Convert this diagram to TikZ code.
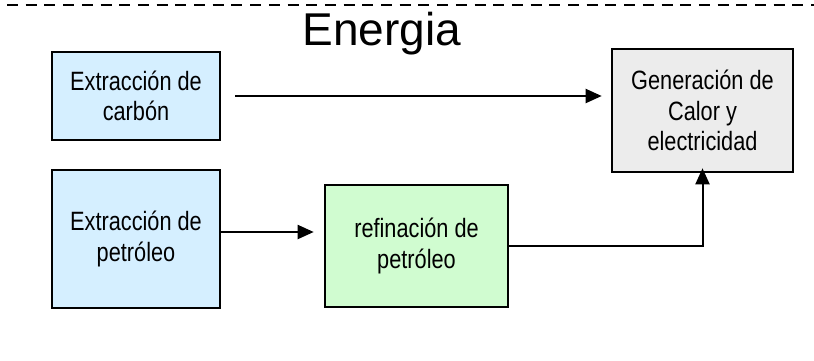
\documentclass[tikz,border=0pt]{standalone}
\usepackage{fontspec}
\setmainfont{Liberation Sans}
\newfontfamily\narrowfont[FakeStretch=0.82]{Liberation Sans}
\usetikzlibrary{arrows.meta}
\definecolor{boxblue}{RGB}{213,239,255}
\definecolor{boxgreen}{RGB}{208,252,208}
\definecolor{boxgray}{RGB}{236,236,236}
\tikzset{
  procbox/.style={draw=black, line width=2.6pt, inner sep=0pt, align=center,
    font=\narrowfont\fontsize{26.5}{30.5}\selectfont},
  arr/.style={line width=2pt, -{Triangle[length=16pt,width=14pt]}},
  sepline/.style={line width=2.2pt, dash pattern=on 11pt off 7.7pt}
}
\begin{document}
\begin{tikzpicture}[x=1pt,y=-1pt]
\useasboundingbox (0,0) rectangle (814,360);
\coordinate (dl) at (7,5);
\coordinate (dr) at (814,5);
\draw[sepline] (dl) -- (dr);
\node[anchor=base, font=\fontsize{46}{50}\selectfont] (title) at (382,45) {Energia};
\node[procbox, fill=boxblue, minimum width=168pt, minimum height=88pt] (carbon) at (136,96) {Extracción de\\carbón};
\node[procbox, fill=boxblue, minimum width=168pt, minimum height=138pt] (petro) at (136,239) {Extracción de\\petróleo};
\node[procbox, fill=boxgreen, minimum width=183pt, minimum height=122pt] (refin) at (416.5,246) {refinación de\\petróleo};
\node[procbox, fill=boxgray, minimum width=181pt, minimum height=123pt] (gen) at (702.5,110.5) {Generación de\\Calor y\\electricidad};
\draw[arr, shorten <=14pt, shorten >=9pt] (carbon.east) -- (carbon.east -| gen.west);
\draw[arr, shorten >=10pt] ([yshift=7pt]petro.east) -- ([yshift=7pt]petro.east -| refin.west);
\draw[arr, shorten >=-5pt] (refin.east) -| (gen.south);
\end{tikzpicture}
\end{document}
